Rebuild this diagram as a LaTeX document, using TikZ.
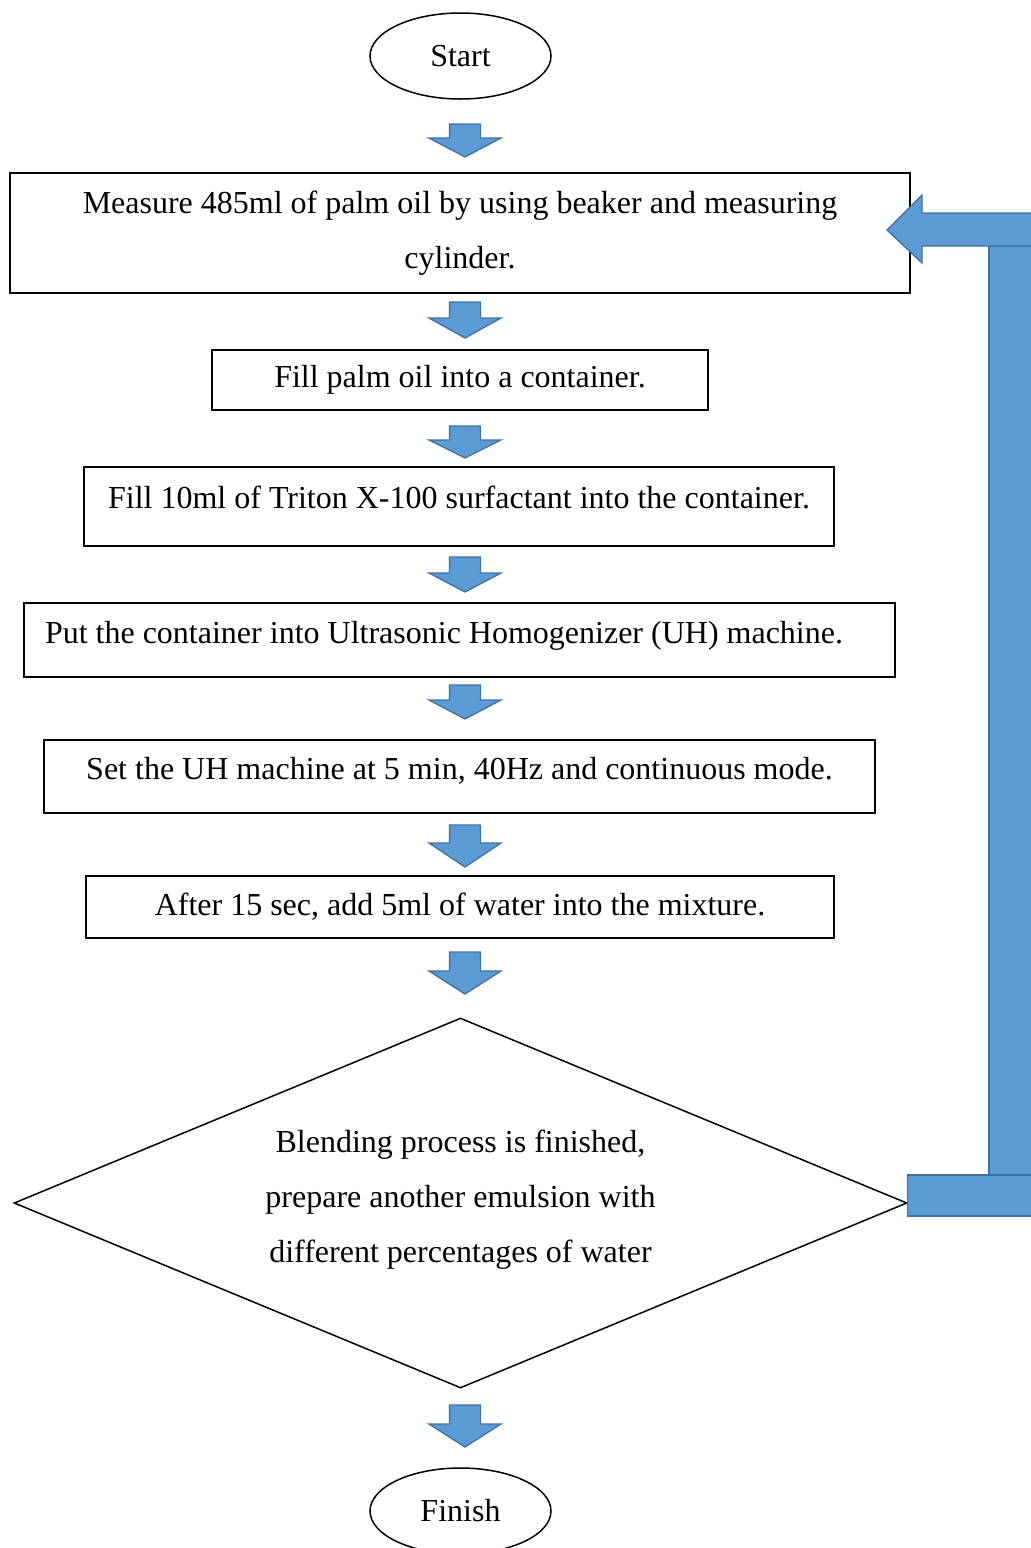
\documentclass[tikz,border=0pt]{standalone}
\usepackage{fontspec}
\setmainfont{Liberation Serif}
\usetikzlibrary{shapes.geometric, positioning}
\definecolor{arrowfill}{HTML}{5B9BD5}
\definecolor{arrowline}{HTML}{41719C}

% block arrow pointing down: tail y, neck y, tip y
\newcommand{\flowdown}[3]{%
  \draw[blockarrow] (449.5,#1) -- (480.5,#1) -- (480.5,#2) -- (501,#2)
    -- (465,#3) -- (429,#2) -- (449.5,#2) -- cycle;}

\begin{document}
\begin{tikzpicture}[
    x=1pt, y=-1pt,
    stepbox/.style={draw, line width=1.5pt, inner sep=0pt, align=center, font=\fontsize{32}{55}\selectfont},
    terminal/.style={draw, ellipse, line width=1.5pt, inner sep=0pt, minimum width=181pt, minimum height=86pt, font=\fontsize{32}{55}\selectfont},
    decision/.style={draw, diamond, aspect=2.41, line width=1.5pt, inner sep=0pt, align=center, minimum width=893pt, minimum height=370pt, font=\fontsize{32}{55}\selectfont},
    blockarrow/.style={fill=arrowfill, draw=arrowline, line width=1.3pt, line join=miter}
]
    \useasboundingbox (0,0) rectangle (1031,1548);

    % Terminals
    \node[terminal] (start) at (460.5,56) {Start};
    \node[terminal] (finish) at (460.5,1511) {Finish};

    % Steps
    \node[stepbox, minimum width=900pt, minimum height=120pt] (measure) at (460,233)
        {Measure 485ml of palm oil by using beaker and measuring\\cylinder.};
    \node[stepbox, minimum width=496pt, minimum height=60pt] (fill) at (460,380)
        {Fill palm oil into a container.};
    \node[stepbox, minimum width=750pt, minimum height=79pt, text depth=18pt] (triton) at (459,506.5)
        {Fill 10ml of Triton X-100 surfactant into the container.};
    \node[stepbox, minimum width=871pt, minimum height=74pt, text depth=15pt,
          align=flush left, text width=829pt] (machine) at (459.5,640)
        {Put the container into Ultrasonic Homogenizer (UH) machine.};
    \node[stepbox, minimum width=831pt, minimum height=73pt, text depth=16pt] (setting) at (459.5,776.5)
        {Set the UH machine at 5 min, 40Hz and continuous mode.};
    \node[stepbox, minimum width=748pt, minimum height=62pt] (water) at (460,907)
        {After 15 sec, add 5ml of water into the mixture.};

    % Decision
    \node[decision, text depth=13pt] (blend) at (460.5,1203)
        {Blending process is finished,\\prepare another emulsion with\\different percentages of water};

    % Down arrows
    \flowdown{124}{138}{157}
    \flowdown{302}{318}{338}
    \flowdown{426}{440}{458}
    \flowdown{557}{573}{592}
    \flowdown{685}{700}{719}
    \flowdown{825}{843}{867}
    \flowdown{952}{971}{994}
    \flowdown{1405}{1424}{1447}

    % Loop back arrow
    \begin{scope}
        \clip (0,0) rectangle (1031,1548);
        \draw[blockarrow] (989,246) rectangle (1040,1175);
        \draw[blockarrow] (blend.east) ++(0,-28) rectangle (1040,1216);
        \draw[blockarrow] (1040,213) -- (922,213) -- (922,195) -- (887,230)
            -- (922,263) -- (922,246) -- (1040,246) -- cycle;
    \end{scope}
\end{tikzpicture}
\end{document}
